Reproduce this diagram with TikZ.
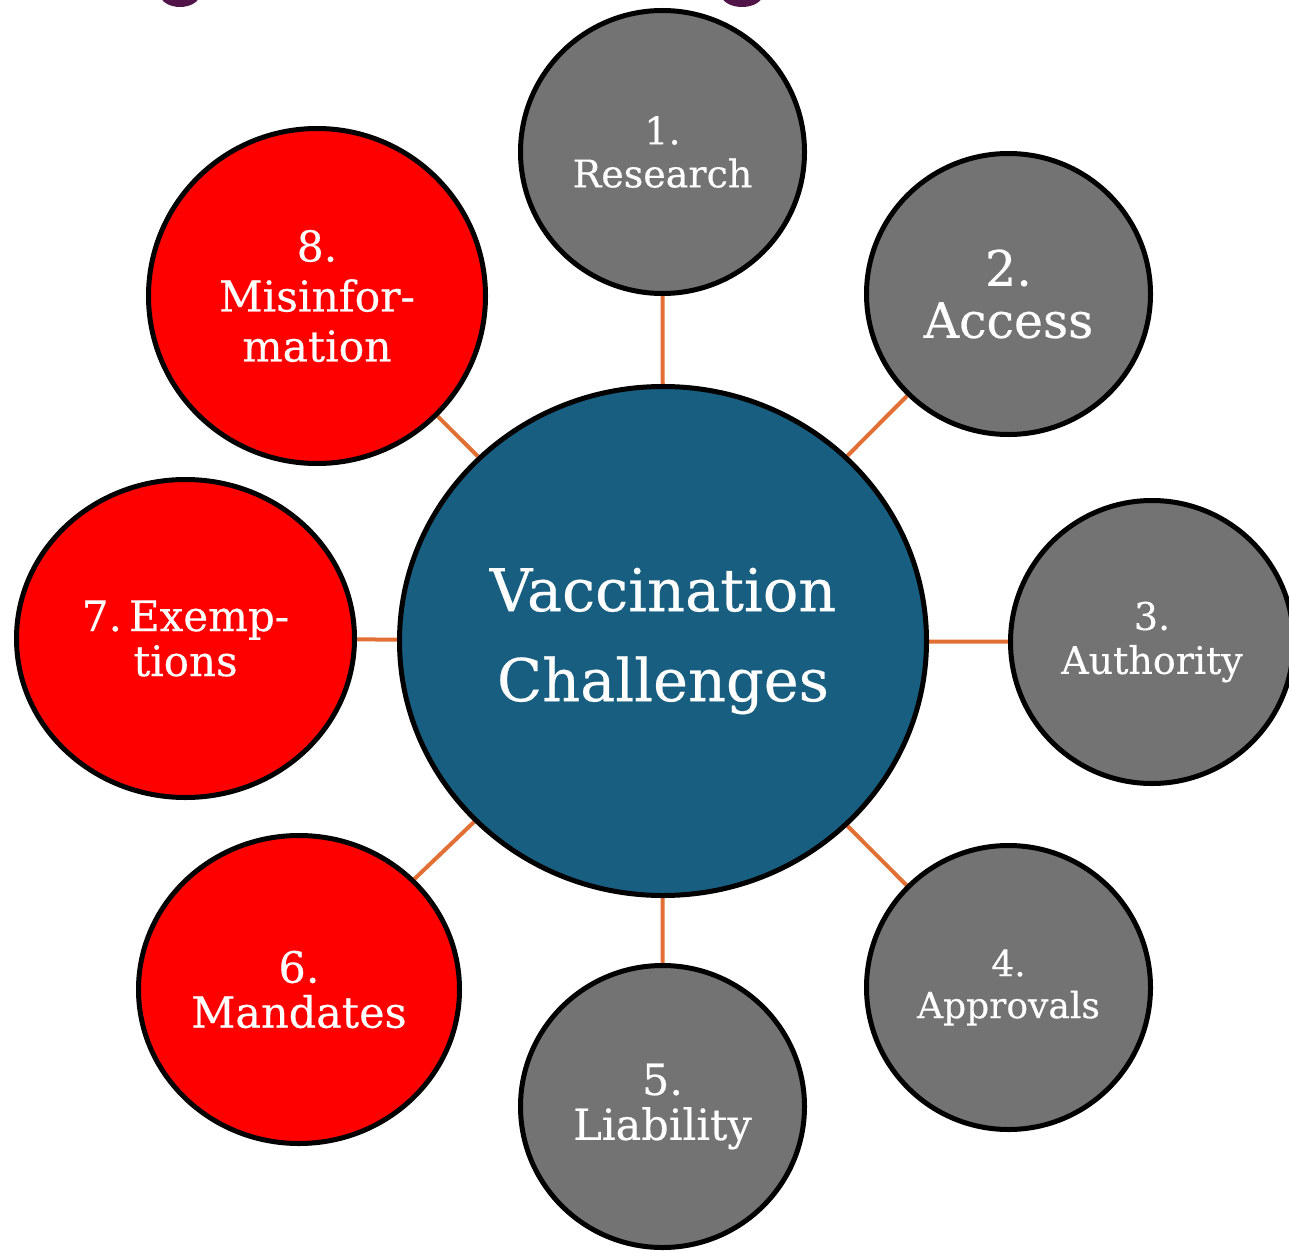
\documentclass[tikz,border=0pt]{standalone}
\usepackage{fontspec}
\setmainfont{DejaVu Serif}
\newfontfamily\slabfont{DejaVu Serif}[FakeBold=0.4]
\usetikzlibrary{shapes.geometric,backgrounds}
\definecolor{bubblegray}{RGB}{115,115,115}
\definecolor{bubblered}{RGB}{255,0,0}
\definecolor{hubblue}{RGB}{24,94,128}
\definecolor{connorange}{RGB}{226,112,52}
\definecolor{titlepurple}{RGB}{80,20,72}
\tikzset{
  bubble/.style={ellipse, draw=black, line width=5pt, inner sep=0pt, text=white, align=center},
  graybubble/.style={bubble, fill=bubblegray},
  redbubble/.style={bubble, fill=bubblered},
  hubbubble/.style={bubble, fill=hubblue},
  conn/.style={draw=connorange, line width=4pt},
  fsz/.style n args={2}{font=\slabfont\fontsize{#1}{#2}\selectfont}
}
\begin{document}
\begin{tikzpicture}[x=1pt,y=-1pt]
\useasboundingbox (0,0) rectangle (1289,1252);
% cropped title descenders
\fill[titlepurple] (180,-6) ellipse [x radius=20, y radius=13];
\fill[titlepurple] (742,-6) ellipse [x radius=21, y radius=13];
% hub
\node[hubbubble, minimum width=527pt, minimum height=509pt, fsz={59}{90}] (c) at (663,641) {Vaccination\\Challenges};
% satellites
\node[graybubble, minimum width=284pt, minimum height=283pt, fsz={38}{43}] (n1) at (662.5,152) {1.\\Research};
\node[graybubble, minimum width=284pt, minimum height=281pt, fsz={49}{52}] (n2) at (1008.5,294) {2.\\Access};
\node[graybubble, minimum width=283pt, minimum height=283pt, fsz={38}{44}] (n3) at (1152,642) {3.\\Authority};
\node[graybubble, minimum width=284pt, minimum height=284pt, fsz={36}{42}] (n4) at (1008.5,987.5) {4.\\Approvals};
\node[graybubble, minimum width=284pt, minimum height=282pt, fsz={43}{45}] (n5) at (662.5,1106.5) {5.\\Liability};
\node[redbubble, minimum width=321pt, minimum height=308pt, fsz={43}{45}] (n6) at (299,989.5) {6.\\Mandates};
\node[redbubble, minimum width=338pt, minimum height=318pt, fsz={42}{45}] (n7) at (185.5,638.5) {7.\,Exemp-\\tions};
\node[redbubble, minimum width=337pt, minimum height=335pt, fsz={42.5}{50}] (n8) at (317,296) {8.\\Misinfor-\\mation};
\begin{scope}[on background layer]
\foreach \n in {n1,n2,n3,n4,n5,n6,n7,n8}{
  \draw[conn] (c) -- (\n);
}
\end{scope}
\end{tikzpicture}
\end{document}
